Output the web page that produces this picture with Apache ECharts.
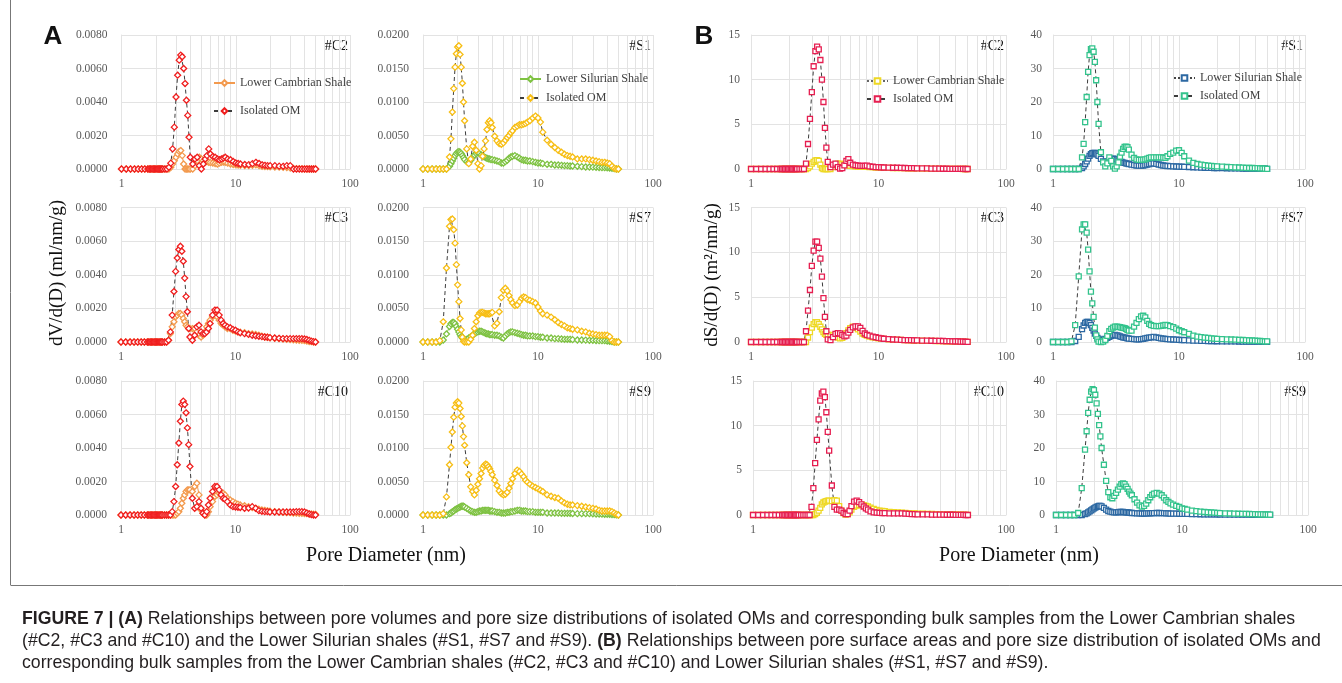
<!DOCTYPE html>
<html><head><meta charset="utf-8">
<script src="https://cdn.jsdelivr.net/npm/echarts/dist/echarts.min.js"></script>
<style>html,body{margin:0;padding:0;background:#fff}#c{width:1342px;height:683px}</style>
</head><body><div id="c"></div>
<script>
// ---------- DATA ----------
const poreDiameter = [
 1.0,1.1,1.2,1.3,1.4,1.5,1.6,
 1.7,1.75,1.8,1.85,1.9,1.95,2.0,2.05,2.1,2.15,2.2,2.25,2.3,
 2.4,2.5,2.6,2.7,2.8,2.9,3.0,3.1,3.2,3.3,3.4,3.5,3.6,3.7,3.8,3.9,4.0,
 4.2,4.4,4.6,4.8,5.0,5.2,5.4,5.6,5.8,6.0,
 6.3,6.6,6.9,7.2,7.5,7.8,8.1,
 8.5,9.0,9.5,10,10.5,11,
 12,13,14,15,16,17,18,19,20,
 22,24,26,28,30,32,34,36,38,40,42,44,46,48,50
];
const xTickLabels = ['1','10','100'];

// (A) pore volume dV/d(D), ml/nm/g
const vol_C2_bulk = [0,0,0,0,0,0,0, 0,0,0,0,0,0,0,0,0,0,0,0,0,
 0,0,0,0.0001,0.0003,0.0005,0.0007,0.0009,0.00105,0.0011,0.0008,0.0003,0,0,0,0,0,
 0,0.0002,0.0005,0.0007,0.0006,0.0005,0.0004,0.00045,0.0004,0.00038,
 0.00036,0.00033,0.0003,0.00035,0.0004,0.00042,0.0004,
 0.00035,0.0003,0.00027,0.00025,0.00023,0.00022,
 0.0002,0.0002,0.00022,0.00025,0.0002,0.00016,0.00015,0.00014,0.00013,
 0.00012,0.00011,0.0001,0.00009,0.00006,0.00003,0.00002,0.00002,0.00001,0,0,0,0,0,0];
const vol_C2_om = [0,0,0,0,0,0,0, 0,0,0,0,0,0,0,0,0,0,0,0,0,
 0,0,0.0001,0.00035,0.0012,0.0025,0.0043,0.0056,0.0065,0.0068,0.0067,0.006,0.0051,0.0041,0.0032,0.0019,0.0007,
 0.0003,0.0006,0.0007,0.0002,0,0.0003,0.0006,0.0008,0.0012,0.0009,
 0.00075,0.0007,0.0006,0.00055,0.0006,0.00065,0.0007,
 0.0006,0.00055,0.00045,0.00036,0.00033,0.0003,
 0.00027,0.00026,0.00032,0.0004,0.00033,0.00025,0.00022,0.0002,0.0002,
 0.0002,0.00017,0.00016,0.0002,0.0002,0,0,0,0,0,0,0,0,0,0];
const vol_C3_bulk = [0,0,0,0,0,0,0, 0,0,0,0,0,0,0,0,0,0,0,0,0,
 0,0,0.0001,0.0005,0.0009,0.0012,0.0015,0.0016,0.0017,0.0017,0.0016,0.0014,0.0012,0.001,0.0009,0.0008,0.0008,
 0.0008,0.0008,0.0006,0.0004,0.0003,0.0004,0.0006,0.0009,0.0011,0.0013,
 0.0015,0.0016,0.0015,0.0013,0.0011,0.001,0.0009,
 0.0008,0.0008,0.0007,0.00065,0.0006,0.00058,
 0.00055,0.0005,0.00048,0.00045,0.0004,0.00035,0.0003,0.00028,0.00025,
 0.00022,0.0002,0.00018,0.00016,0.00015,0.00013,0.00012,0.0001,0.0001,0.00008,0.00005,0.00003,0.00002,0,0];
const vol_C3_om = [0,0,0,0,0,0,0, 0,0,0,0,0,0,0,0,0,0,0,0,0,
 0,0,0.0001,0.0006,0.0016,0.003,0.0042,0.005,0.0055,0.0057,0.0054,0.0048,0.0038,0.0027,0.0018,0.0008,0.0003,
 0.0001,0.0004,0.0009,0.001,0.0006,0.0005,0.0005,0.0006,0.0008,0.0011,
 0.0016,0.0019,0.0019,0.0016,0.0013,0.0011,0.001,
 0.0009,0.00085,0.00075,0.0007,0.0006,0.00055,
 0.0005,0.00045,0.0004,0.00037,0.00034,0.00032,0.0003,0.00028,0.00026,
 0.00024,0.00022,0.0002,0.0002,0.0002,0.0002,0.0002,0.0002,0.0002,0.00018,0.00015,0.0001,0.00005,0.00002,0];
const vol_C10_bulk = [0,0,0,0,0,0,0, 0,0,0,0,0,0,0,0,0,0,0,0,0,
 0,0,0,0,0,0,0,0.0001,0.0002,0.0004,0.0007,0.001,0.0012,0.0014,0.0015,0.0015,0.0015,
 0.0014,0.0017,0.0019,0.0012,0.0003,0.0001,0,0,0.0002,0.0005,
 0.0008,0.0011,0.0012,0.0013,0.0013,0.0013,0.0012,
 0.001,0.0009,0.0008,0.0007,0.00065,0.0006,
 0.00055,0.0005,0.00045,0.0004,0.00035,0.0003,0.00028,0.00025,0.00023,
 0.0002,0.00018,0.00016,0.00015,0.00014,0.00012,0.00011,0.0001,0.0001,0.00009,0.00008,0.00007,0.00006,0.00005,0.00004];
const vol_C10_om = [0,0,0,0,0,0,0, 0,0,0,0,0,0,0,0,0,0,0,0,0,
 0,0,0,0,0.0002,0.0008,0.0017,0.003,0.0043,0.0056,0.0066,0.0068,0.0066,0.0061,0.0052,0.0042,0.0029,
 0.001,0.0004,0.0005,0.0008,0.0004,0.0001,0,0.0002,0.0006,0.001,
 0.0014,0.0017,0.0017,0.0015,0.0012,0.001,0.00095,
 0.0008,0.0006,0.0005,0.00048,0.00046,0.00045,
 0.0004,0.00042,0.0005,0.0004,0.00026,0.00022,0.0002,0.0002,0.00018,
 0.00018,0.00018,0.00018,0.00018,0.00018,0.00018,0.0002,0.0002,0.0002,0.00018,0.00012,0.00006,0.00002,0,0];
const vol_S1_bulk = [0,0,0,0,0,0,0,
 0.0004,0.0008,0.0012,0.0016,0.002,0.0023,0.0025,0.0026,0.0025,0.0023,0.002,0.0017,0.0014,
 0.0011,0.001,0.0013,0.0017,0.0021,0.0023,0.0024,0.0023,0.0021,0.0019,0.0018,0.0017,0.0016,0.0015,0.0015,0.0014,0.0014,
 0.0013,0.0012,0.0011,0.0009,0.0009,0.0011,0.0013,0.0016,0.0018,0.0019,
 0.002,0.0018,0.0016,0.0014,0.0013,0.0013,0.0012,
 0.0012,0.0011,0.001,0.0009,0.0009,0.0008,
 0.0007,0.0007,0.0006,0.0006,0.00055,0.0005,0.0005,0.00045,0.00045,
 0.0004,0.00035,0.0003,0.0003,0.00028,0.00025,0.00022,0.0002,0.0002,0.00018,0.00015,0.0001,0.00005,0,0];
const vol_S1_om = [0,0,0,0,0,0,0,
 0.0018,0.0045,0.0085,0.012,0.0152,0.0172,0.0182,0.0184,0.0171,0.0152,0.0128,0.01,0.0072,
 0.003,0.0008,0.0015,0.0034,0.004,0.0028,0.0008,0,0.0005,0.0019,0.003,0.0042,0.0059,0.0069,0.0072,0.0069,0.0062,
 0.0049,0.0042,0.0038,0.0037,0.0039,0.0043,0.0047,0.005,0.0054,0.0057,
 0.0062,0.0064,0.0066,0.0066,0.0067,0.0068,0.007,
 0.0072,0.0076,0.0079,0.0076,0.007,0.0055,
 0.0043,0.0037,0.0032,0.0028,0.0025,0.0022,0.002,0.0019,0.0018,
 0.0015,0.0015,0.0015,0.0014,0.0013,0.0012,0.0011,0.001,0.001,0.0009,0.0008,0.0004,0.0001,0,0];
const vol_S7_bulk = [0,0,0,0,0,0.0003,0.0012,
 0.0023,0.0027,0.0029,0.0029,0.0027,0.0023,0.0019,0.0015,0.0011,0.0008,0.0006,0.0005,0.0004,
 0.0004,0.0006,0.0008,0.001,0.0012,0.0014,0.0015,0.0016,0.0016,0.0015,0.0014,0.0013,0.0012,0.0012,0.0011,0.0011,0.0011,
 0.001,0.001,0.0009,0.0007,0.0006,0.0009,0.0012,0.0014,0.0015,0.0015,
 0.0014,0.0013,0.0012,0.0011,0.001,0.001,0.0009,
 0.0009,0.0009,0.0008,0.0008,0.0007,0.0007,
 0.0006,0.0006,0.0005,0.0005,0.00045,0.0004,0.0004,0.0004,0.00035,
 0.0003,0.0003,0.00028,0.00025,0.00025,0.00022,0.0002,0.0002,0.0002,0.00015,0.0001,0.00005,0,0,0];
const vol_S7_om = [0,0,0,0,0.0002,0.003,0.011,
 0.0172,0.0182,0.0183,0.0167,0.0147,0.0115,0.0085,0.006,0.0035,0.0018,0.0007,0.0001,0,
 0,0,0.0004,0.001,0.002,0.003,0.0039,0.0043,0.0044,0.0044,0.0043,0.0042,0.0042,0.0042,0.0042,0.0043,0.0044,
 0.0024,0.0028,0.0045,0.0066,0.0077,0.008,0.0076,0.0069,0.0063,0.0058,
 0.0054,0.0055,0.006,0.0065,0.0067,0.0066,0.0063,
 0.0062,0.006,0.0058,0.0052,0.0046,0.0042,
 0.004,0.0037,0.0033,0.0029,0.0026,0.0024,0.0021,0.002,0.0019,
 0.0018,0.0016,0.0015,0.0013,0.0012,0.0011,0.001,0.001,0.001,0.001,0.0008,0.0002,0,0,0];
const vol_S9_bulk = [0,0,0,0,0,0,0,
 0.0002,0.0003,0.0005,0.0006,0.0008,0.0009,0.001,0.0011,0.0012,0.0013,0.0013,0.0013,0.0012,
 0.001,0.0008,0.0006,0.0005,0.0004,0.0004,0.0005,0.0006,0.0006,0.0007,0.0007,0.0007,0.0007,0.0007,0.0006,0.0006,0.0006,
 0.0005,0.0004,0.0004,0.0003,0.0003,0.0003,0.0004,0.0004,0.0005,0.0005,
 0.0006,0.0007,0.0007,0.0006,0.0006,0.0006,0.0005,
 0.0005,0.0005,0.0004,0.0004,0.0004,0.0004,
 0.0003,0.0003,0.0003,0.0003,0.00025,0.00025,0.00025,0.00025,0.00022,
 0.0002,0.0002,0.0002,0.0002,0.00018,0.00015,0.00015,0.00012,0.0001,0.0001,0.0001,0.00008,0.00005,0.00003,0];
const vol_S9_om = [0,0,0,0,0,0.0002,0.0027,
 0.0075,0.0101,0.0124,0.0146,0.0161,0.0167,0.0169,0.0167,0.0159,0.0147,0.0133,0.0117,0.0104,
 0.0078,0.006,0.0042,0.0035,0.003,0.0037,0.0046,0.0054,0.0062,0.007,0.0074,0.0076,0.0075,0.0072,0.0069,0.0065,0.006,
 0.0052,0.0044,0.0036,0.0032,0.003,0.0031,0.0034,0.004,0.0047,0.0054,
 0.0062,0.0067,0.0065,0.0061,0.0057,0.0052,0.0049,
 0.0046,0.0043,0.0041,0.0039,0.0037,0.0035,
 0.003,0.0028,0.0026,0.0025,0.0021,0.0018,0.0016,0.0015,0.0015,
 0.0014,0.0013,0.0012,0.0011,0.001,0.0009,0.0007,0.0006,0.0006,0.0006,0.0006,0.0005,0.0003,0.0001,0];

// (B) surface area dS/d(D), m2/nm/g
const sa_C2_bulk = [0,0,0,0,0,0,0, 0,0,0,0,0,0,0,0,0,0,0,0,0,
 0,0,0,0,0.1,0.3,0.6,0.8,0.95,1.0,0.9,0.5,0.1,0,0,0,0,
 0,0.2,0.45,0.6,0.6,0.55,0.5,0.45,0.4,0.35,
 0.32,0.3,0.28,0.27,0.27,0.27,0.25,
 0.22,0.2,0.17,0.15,0.14,0.13,
 0.12,0.11,0.1,0.1,0.09,0.08,0.07,0.07,0.06,
 0.05,0.04,0.04,0.03,0.03,0.02,0.02,0.02,0.01,0.01,0.01,0.01,0,0,0];
const sa_C2_om = [0,0,0,0,0,0,0, 0,0,0,0,0,0,0,0,0,0,0,0,0,
 0,0,0,0.6,2.8,5.6,8.6,11.5,13.2,13.7,13.4,12.2,10,7.5,4.6,2.4,0.8,
 0.2,0.5,0.6,0.2,0.05,0.1,0.4,0.9,1.1,0.7,
 0.5,0.42,0.38,0.35,0.34,0.35,0.37,
 0.3,0.25,0.22,0.2,0.18,0.17,
 0.15,0.14,0.14,0.13,0.11,0.1,0.1,0.09,0.08,
 0.07,0.06,0.05,0.05,0.04,0.03,0.03,0.02,0.02,0.02,0.01,0.01,0.01,0,0];
const sa_C3_bulk = [0,0,0,0,0,0,0, 0,0,0,0,0,0,0,0,0,0,0,0,0,
 0,0,0,0,0.5,1.1,1.6,2.0,2.2,2.2,2.0,1.7,1.4,1.1,0.9,0.8,0.8,
 0.8,0.75,0.6,0.5,0.4,0.45,0.7,1.0,1.3,1.55,
 1.7,1.6,1.4,1.15,0.95,0.8,0.7,
 0.6,0.52,0.46,0.42,0.38,0.35,
 0.3,0.27,0.25,0.23,0.21,0.2,0.18,0.17,0.16,
 0.14,0.13,0.12,0.11,0.1,0.09,0.08,0.07,0.06,0.05,0.05,0.04,0.03,0.02,0.01];
const sa_C3_om = [0,0,0,0,0,0,0, 0,0,0,0,0,0,0,0,0,0,0,0,0,
 0,0,0,1.2,3.5,5.8,8.5,10.2,11.2,11.2,10.5,9.3,7.3,4.9,2.8,1.2,0.3,
 0.2,0.55,0.9,1.0,0.97,0.8,0.62,0.72,1.05,1.35,
 1.64,1.75,1.75,1.57,1.25,0.95,0.8,
 0.7,0.6,0.53,0.45,0.4,0.36,
 0.32,0.28,0.26,0.24,0.22,0.21,0.2,0.19,0.18,
 0.16,0.15,0.14,0.13,0.12,0.11,0.1,0.09,0.08,0.07,0.06,0.05,0.04,0.03,0.02];
const sa_C10_bulk = [0,0,0,0,0,0,0, 0,0,0,0,0,0,0,0,0,0,0,0,0,
 0,0,0,0,0,0,0,0.1,0.25,0.5,0.8,1.2,1.4,1.5,1.55,1.6,1.6,
 1.55,1.65,1.6,1.0,0.5,0.2,0.05,0.1,0.3,0.6,
 0.9,1.05,1.12,1.15,1.1,1.02,0.95,
 0.82,0.68,0.58,0.5,0.45,0.42,
 0.36,0.32,0.28,0.25,0.23,0.21,0.19,0.17,0.16,
 0.14,0.12,0.11,0.1,0.09,0.08,0.07,0.07,0.06,0.06,0.05,0.04,0.03,0.02,0.01];
const sa_C10_om = [0,0,0,0,0,0,0, 0,0,0,0,0,0,0,0,0,0,0,0,0,
 0,0,0,0,0,0.9,3.0,5.8,8.4,10.7,12.8,13.6,13.8,13.2,11.5,9.3,7.2,
 3.3,0.9,0.6,0.6,0.5,0.25,0.1,0.1,0.5,1.0,
 1.5,1.6,1.45,1.2,0.95,0.75,0.6,
 0.4,0.3,0.26,0.24,0.22,0.21,
 0.19,0.19,0.19,0.19,0.15,0.12,0.1,0.09,0.08,
 0.07,0.06,0.05,0.05,0.04,0.04,0.03,0.03,0.03,0.02,0.02,0.01,0.01,0,0];
const sa_S1_bulk = [0,0,0,0,0,0,0,
 0.3,0.8,1.5,2.3,3.1,3.9,4.4,4.7,4.8,4.8,4.6,4.3,3.9,
 3.0,2.3,2.0,2.2,2.6,3.0,3.1,3.0,2.8,2.5,2.3,2.1,1.9,1.8,1.7,1.6,1.5,
 1.3,1.15,1.05,1.0,1.0,1.05,1.15,1.3,1.45,1.6,
 1.65,1.55,1.35,1.2,1.05,0.95,0.9,
 0.85,0.8,0.75,0.7,0.67,0.64,
 0.6,0.52,0.46,0.42,0.38,0.35,0.32,0.3,0.28,
 0.25,0.22,0.2,0.18,0.16,0.15,0.14,0.13,0.12,0.11,0.1,0.09,0.08,0.07,0.06];
const sa_S1_om = [0,0,0,0,0,0,0,
 3.5,7.5,14,21.5,29,34,35.8,36,35,32,26.5,20,13.5,
 5.0,2.0,0.8,1.7,3.5,2.4,0.8,0.1,0.8,2.0,3.7,4.9,6.0,6.6,6.7,6.5,5.8,
 4.3,3.3,2.9,2.7,2.7,2.8,2.9,3.1,3.3,3.5,
 3.5,3.5,3.5,3.5,3.4,3.3,3.8,
 4.5,4.9,5.5,5.6,4.8,3.8,
 2.5,1.8,1.5,1.3,1.15,1.0,0.95,0.85,0.8,
 0.7,0.6,0.55,0.5,0.45,0.4,0.35,0.3,0.3,0.25,0.25,0.2,0.15,0.1,0.05];
const sa_S7_bulk = [0,0,0,0,0,0.3,1.5,
 3.8,4.9,5.7,6.0,6.0,5.6,5.0,4.2,3.4,2.5,1.8,1.2,0.9,
 0.6,0.6,0.9,1.2,1.5,1.8,2.0,2.1,2.0,1.9,1.7,1.55,1.4,1.3,1.2,1.1,1.0,
 0.9,0.85,0.8,0.8,0.85,0.95,1.1,1.2,1.3,1.4,
 1.5,1.4,1.25,1.1,1.0,0.9,0.85,
 0.8,0.75,0.7,0.65,0.6,0.55,
 0.48,0.42,0.38,0.34,0.31,0.28,0.26,0.25,0.23,
 0.21,0.19,0.17,0.16,0.15,0.14,0.13,0.12,0.11,0.1,0.1,0.09,0.08,0.07,0.06];
const sa_S7_om = [0,0,0,0,0.2,5.0,19.5,
 33.5,35,35,32.5,27.5,21,15,11.5,7.5,4.3,2.0,0.8,0.1,
 0,0.1,0.6,1.8,3.2,3.9,4.3,4.6,4.6,4.5,4.4,4.3,4.2,4.1,3.9,3.6,3.4,
 3.4,4.6,5.7,6.8,7.6,7.8,7.3,6.3,5.4,5.0,
 4.8,4.7,4.7,4.8,4.9,5.1,5.0,
 4.7,4.4,4.0,3.5,3.2,2.9,
 2.4,1.9,1.6,1.45,1.3,1.2,1.1,1.0,0.95,
 0.85,0.8,0.75,0.7,0.65,0.6,0.55,0.5,0.45,0.4,0.35,0.3,0.25,0.2,0.2];
const sa_S9_bulk = [0,0,0,0,0,0,0,
 0.3,0.5,0.8,1.1,1.4,1.7,2.0,2.2,2.4,2.6,2.7,2.7,2.6,
 2.1,1.6,1.2,1.0,0.85,0.8,0.8,0.85,0.9,0.9,0.9,0.85,0.8,0.75,0.7,0.65,0.6,
 0.55,0.5,0.47,0.45,0.45,0.47,0.5,0.52,0.55,0.57,
 0.6,0.6,0.57,0.53,0.5,0.47,0.44,
 0.42,0.4,0.37,0.35,0.33,0.31,
 0.27,0.24,0.22,0.2,0.19,0.18,0.17,0.16,0.15,
 0.14,0.13,0.12,0.11,0.1,0.09,0.09,0.08,0.08,0.07,0.07,0.06,0.06,0.05,0.05];
const sa_S9_om = [0,0,0,0,0,0.6,8.0,
 19.5,25,30.5,34.4,36.8,37.6,37.3,35.9,33.3,30.2,26.8,23.5,20,
 15,10.2,6.8,5.3,5.0,5.7,6.6,7.6,8.5,9.2,9.4,9.2,8.5,7.8,7.0,6.4,5.9,
 4.7,3.7,2.9,2.5,2.7,3.4,4.4,5.3,6.0,6.4,
 6.6,6.4,5.9,5.2,4.4,3.9,3.5,
 3.1,2.7,2.4,2.0,1.8,1.6,
 1.3,1.15,1.0,0.9,0.82,0.75,0.68,0.62,0.58,
 0.5,0.45,0.4,0.37,0.34,0.32,0.3,0.27,0.25,0.22,0.2,0.18,0.15,0.12,0.1];

const minorGridX = [2,3,4,5,6,7,8,9,20,30,40,50,60,70,80,90];
const panelTags = ['#C2','#S1','#C2','#S1','#C3','#S7','#C3','#S7','#C10','#S9','#C10','#S9'];
const panelKinds = ['AC','AS','BC','BS','AC','AS','BC','BS','AC','AS','BC','BS'];
const bulkSeries = [vol_C2_bulk,vol_S1_bulk,sa_C2_bulk,sa_S1_bulk,vol_C3_bulk,vol_S7_bulk,sa_C3_bulk,sa_S7_bulk,vol_C10_bulk,vol_S9_bulk,sa_C10_bulk,sa_S9_bulk];
const omSeries = [vol_C2_om,vol_S1_om,sa_C2_om,sa_S1_om,vol_C3_om,vol_S7_om,sa_C3_om,sa_S7_om,vol_C10_om,vol_S9_om,sa_C10_om,sa_S9_om];

// ---------- LAYOUT / STYLE ----------
const SERIF = "'Liberation Serif','Times New Roman',serif";
const SANS = "'Liberation Sans',Arial,sans-serif";
const GRIDC = '#E3E3E3';
const LABC = '#595959';
const ZW = '\u200b';
const panelBoxes = [
 [121.5,35,228.5,134],[423,35,230,134],[751,35,255,134],[1053,35,252,134],
 [121,207.5,229,134.5],[423,207.5,230,134.5],[751,207.5,255,134.5],[1053,207.5,252,134.5],
 [121,381,229,134],[423,381,230,134],[753,381,253,134],[1056,381,252,134]
];
const legendBoxes = {0:[213,77,16],1:[519,73,7],2:[866,75,6],3:[1173,72,6]};
const KIND = {
 AC:{ymax:0.008,step:0.002,dec:4,bulkName:'Lower Cambrian Shale',bulkColor:'#F39A4E',bulkLine:'#F39A4E',bulkType:'solid',omColor:'#F01E1E',sym:'diamond',size:6},
 AS:{ymax:0.02,step:0.005,dec:4,bulkName:'Lower Silurian Shale',bulkColor:'#7EC242',bulkLine:'#7EC242',bulkType:'solid',omColor:'#F7BE14',sym:'diamond',size:6},
 BC:{ymax:15,step:5,dec:0,bulkName:'Lower Cambrian Shale',bulkColor:'#EED823',bulkLine:'#666666',bulkType:'dotted',omColor:'#E61E50',sym:'rect',size:5},
 BS:{ymax:40,step:10,dec:0,bulkName:'Lower Silurian Shale',bulkColor:'#2C68A2',bulkLine:'#444444',bulkType:'dotted',omColor:'#33C38C',sym:'rect',size:5}
};

[...bulkSeries, ...omSeries].forEach((a,i)=>{ if(a.length!==poreDiameter.length) throw new Error('series '+i+' length '+a.length); });

const grids=[], xAxes=[], yAxes=[], series=[], legends=[], graphics=[];
function mkSeries(name, arr, col, lineCol, lineType, sym, size, gi){
  return {type:'line', name, xAxisIndex:gi, yAxisIndex:gi, data: poreDiameter.map((d,k)=>[d, arr[k]]),
    symbol:sym, symbolSize:size, showSymbol:true, showAllSymbol:true, silent:true, z:3,
    itemStyle:{color:'#ffffff', borderColor:col, borderWidth:1.3},
    lineStyle:{color:lineCol, width:1, type:lineType},
    emphasis:{disabled:true}, animation:false};
}
panelBoxes.forEach((b,i)=>{
  const K = KIND[panelKinds[i]];
  grids.push({left:b[0], top:b[1], width:b[2], height:b[3]});
  xAxes.push({type:'log', logBase:10, gridIndex:i, min:1, max:100,
    axisLine:{show:true, lineStyle:{color:GRIDC}}, axisTick:{show:false},
    splitLine:{show:true, lineStyle:{color:GRIDC}},
    axisLabel:{fontFamily:SERIF, fontSize:11.5, color:LABC, margin:9,
      formatter:v=>xTickLabels[Math.round(Math.log10(v))]}});
  yAxes.push({type:'value', gridIndex:i, min:0, max:K.ymax, interval:K.step,
    axisLine:{show:true, lineStyle:{color:GRIDC}}, axisTick:{show:false},
    splitLine:{show:true, lineStyle:{color:GRIDC}},
    axisLabel:{fontFamily:SERIF, fontSize:11.5, color:LABC, margin:K.dec?14:11, formatter:v=>v.toFixed(K.dec)}});
  series.push({type:'line', xAxisIndex:i, yAxisIndex:i, data:[], z:1, silent:true,
    markLine:{silent:true, z:1, symbol:['none','none'], label:{show:false}, animation:false,
      lineStyle:{color:GRIDC, width:1, type:'solid'}, emphasis:{disabled:true},
      data:minorGridX.map(v=>({xAxis:v}))}});
  const bn = K.bulkName + ZW.repeat(i), on = 'Isolated OM' + ZW.repeat(i);
  series.push(mkSeries(bn, bulkSeries[i], K.bulkColor, K.bulkLine, K.bulkType, K.sym, K.size, i));
  series.push(mkSeries(on, omSeries[i], K.omColor, '#3C3C3C', [4,3], K.sym, K.size, i));
  if (legendBoxes[i]) {
    const L = legendBoxes[i];
    legends.push({left:L[0], top:L[1], orient:'vertical', itemGap:L[2], itemWidth:21, itemHeight:7, padding:0,
      selectedMode:false, data:[bn, on], formatter:n=>n.replace(/\u200b/g,''),
      textStyle:{fontFamily:SERIF, fontSize:12, color:'#404040'}});
  }
  graphics.push({type:'text', x:b[0]+b[2]-2, y:b[1]+11, silent:true,
    style:{text:panelTags[i], x:0, y:0, fill:'#111', fontFamily:SERIF, fontSize:14, align:'right', verticalAlign:'middle', textAlign:'right', textVerticalAlign:'middle'}});
});

function txt(x,y,text,st,rot){
  graphics.push({type:'text', x, y, rotation:rot||0, silent:true,
    style:Object.assign({text, x:0, y:0, fill:'#111', align:'center', verticalAlign:'middle', textAlign:'center', textVerticalAlign:'middle'}, st)});
}
txt(53,37,'A',{fontFamily:SANS, fontSize:26, fontWeight:'bold'});
txt(704,37,'B',{fontFamily:SANS, fontSize:26, fontWeight:'bold'});
txt(57,273,'dV/d(D) (ml/nm/g)',{fontFamily:SERIF, fontSize:19}, Math.PI/2);
txt(712,275,'dS/d(D) (m\u00b2/nm/g)',{fontFamily:SERIF, fontSize:19}, Math.PI/2);
txt(386,556,'Pore Diameter (nm)',{fontFamily:SERIF, fontSize:20});
txt(1019,556,'Pore Diameter (nm)',{fontFamily:SERIF, fontSize:20});

graphics.push({type:'line', silent:true, shape:{x1:10.5,y1:0,x2:10.5,y2:585}, style:{stroke:'#777', lineWidth:1}});
graphics.push({type:'line', silent:true, shape:{x1:10.5,y1:585.5,x2:1342,y2:585.5}, style:{stroke:'#777', lineWidth:1}});

const capStyle = {fontFamily:SANS, fontSize:17.7, fill:'#231F20'};
const capRich = {b:{fontFamily:SANS, fontSize:17.7, fontWeight:'bold', fill:'#231F20'}};
const capLines = [
 '{b|FIGURE 7 | (A)} Relationships between pore volumes and pore size distributions of isolated OMs and corresponding bulk samples from the Lower Cambrian shales',
 '(#C2, #C3 and #C10) and the Lower Silurian shales (#S1, #S7 and #S9). {b|(B)} Relationships between pore surface areas and pore size distribution of isolated OMs and',
 'corresponding bulk samples from the Lower Cambrian shales (#C2, #C3 and #C10) and Lower Silurian shales (#S1, #S7 and #S9).'
];
capLines.forEach((t,k)=>{
  graphics.push({type:'text', x:22, y:619+22*k, silent:true,
    style:Object.assign({text:t, x:0, y:0, rich:capRich, align:'left', verticalAlign:'middle', textAlign:'left', textVerticalAlign:'middle'}, capStyle)});
});

const chart = echarts.init(document.getElementById('c'), null, {renderer:'canvas'});
chart.setOption({animation:false, backgroundColor:'#ffffff', grid:grids, xAxis:xAxes, yAxis:yAxes, series, legend:legends, graphic:graphics});
</script>
</body></html>
